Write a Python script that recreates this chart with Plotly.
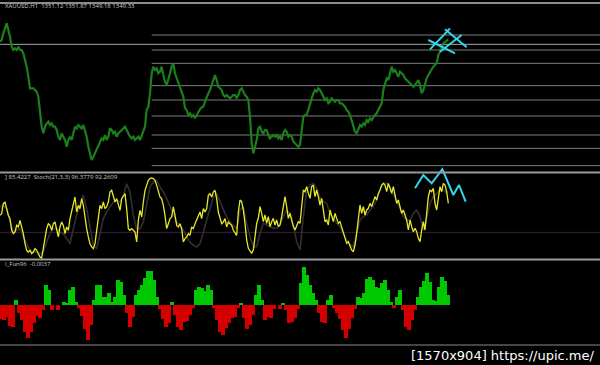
import plotly.graph_objects as go

# ---------------- data ----------------
# close prices, one per H1 bar
price_close = [
 1348.5,1349.0,1351.0,1352.5,1354.0,1352.0,1350.0,1347.0,1346.0,1346.5,
 1346.0,1347.0,1346.0,1346.0,1345.0,1343.0,1341.0,1338.0,1334.5,1334.5,
 1334.5,1334.0,1333.5,1332.0,1328.0,1323.0,1321.0,1323.0,1324.0,1324.5,
 1323.5,1324.0,1323.0,1323.0,1322.0,1320.0,1319.0,1321.0,1320.0,1319.0,
 1317.0,1319.0,1320.0,1319.0,1321.0,1323.0,1322.5,1323.5,1323.0,1322.5,
 1323.5,1322.0,1320.0,1317.0,1315.0,1313.0,1314.0,1315.0,1316.0,1317.0,
 1318.0,1319.5,1319.0,1320.5,1319.0,1320.0,1322.5,1322.0,1321.0,1321.5,
 1320.0,1321.0,1321.5,1322.0,1322.5,1323.0,1322.0,1321.0,1320.0,1319.5,
 1320.0,1319.0,1319.5,1320.0,1319.0,1320.5,1321.5,1323.0,1328.0,1329.0,
 1333.0,1339.0,1341.0,1340.0,1340.5,1339.0,1339.5,1341.0,1338.5,1336.5,
 1335.5,1337.0,1339.0,1341.0,1342.0,1339.0,1337.5,1336.0,1334.5,1333.5,
 1332.0,1328.5,1328.0,1326.5,1327.0,1326.0,1326.5,1325.5,1326.5,1327.0,
 1328.2,1328.8,1329.0,1330.5,1332.0,1333.0,1334.0,1335.5,1336.5,1338.5,
 1337.0,1335.0,1334.5,1334.0,1332.5,1332.0,1332.5,1332.0,1331.5,1332.0,
 1332.5,1332.5,1331.5,1332.5,1334.0,1334.5,1333.5,1332.5,1332.0,1331.0,
 1326.0,1318.0,1315.0,1317.0,1319.0,1322.5,1323.0,1321.5,1321.0,1322.0,
 1322.0,1320.5,1319.5,1320.0,1320.5,1320.0,1320.5,1319.5,1320.0,1319.0,
 1321.0,1322.0,1321.5,1320.0,1320.5,1320.0,1318.5,1318.0,1317.5,1317.0,
 1317.5,1321.0,1326.0,1326.5,1326.5,1328.0,1330.0,1331.5,1333.0,1334.0,
 1333.5,1334.5,1334.0,1333.0,1332.0,1331.0,1331.5,1330.0,1330.5,1331.5,
 1331.0,1330.5,1331.0,1331.0,1330.0,1330.0,1329.5,1329.0,1328.0,1327.5,
 1326.5,1325.0,1323.0,1321.5,1321.0,1322.0,1323.5,1323.0,1324.0,1323.5,
 1325.0,1324.5,1325.5,1325.0,1326.0,1326.5,1327.0,1328.0,1329.0,1330.0,
 1334.0,1336.0,1337.5,1337.0,1339.0,1341.0,1339.5,1340.0,1339.0,1338.0,
 1339.5,1339.0,1338.5,1337.5,1337.0,1336.5,1336.0,1335.5,1335.0,1335.5,
 1336.5,1337.0,1335.5,1333.0,1334.0,1336.0,1337.5,1338.5,1339.5,1340.5,
 1341.0,1341.5,1342.0,1344.5,1345.5,1346.5,1348.0,1348.5,1349.0,1349.2,
]

# horizontal price levels (drawn objects)
level_full = 1347.7
levels_right = [1350.5, 1346.0, 1342.0, 1335.3, 1331.0, 1326.2, 1320.5, 1316.5, 1311.3]
levels_start_bar = 91

# cyan crossing lines on price chart: (bar0, price0, bar1, price1)
cross_lines = [
 (257, 1349.0, 273, 1345.0),
 (258, 1346.2, 270, 1352.5),
 (264, 1345.5, 277, 1350.5),
 (267, 1352.2, 280, 1346.8),
]

# Stochastic main line (%K), one per bar
stoch_main = [
 53.3,55.4,67.9,70.0,61.7,53.3,49.2,34.6,30.4,32.5,
 40.8,38.8,47.1,38.8,30.4,17.9,9.6,7.5,9.6,5.4,
 7.5,11.7,9.6,5.4,1.3,0.0,11.7,26.3,36.7,42.9,
 40.8,34.6,42.9,45.0,34.6,26.3,38.8,45.0,40.8,30.4,
 38.8,34.6,49.2,59.6,65.8,76.3,57.5,65.8,61.7,74.2,
 65.8,49.2,36.7,26.3,17.9,13.8,11.7,17.9,32.5,49.2,
 65.8,61.7,70.0,61.7,63.8,70.0,82.5,84.6,76.3,70.0,
 74.2,65.8,59.6,74.2,78.3,80.4,61.7,36.7,34.6,36.7,
 34.6,32.5,20.0,47.1,59.6,51.3,70.0,84.6,90.8,97.1,
 99.2,100.0,99.2,97.1,90.8,82.5,76.3,74.2,65.8,53.3,
 36.7,42.9,49.2,51.3,63.8,53.3,40.8,38.8,42.9,36.7,
 20.0,24.2,26.3,30.4,28.3,38.8,36.7,42.9,47.1,53.3,
 57.5,49.2,61.7,57.5,61.7,78.3,80.4,76.3,82.5,84.6,
 74.2,57.5,51.3,42.9,45.0,49.2,38.8,45.0,42.9,40.8,
 34.6,30.4,28.3,57.5,72.5,70.4,60.0,43.3,22.5,12.1,
 7.9,5.8,10.0,26.7,43.3,49.6,64.2,55.8,45.4,53.75,
 43.3,51.7,39.2,45.4,49.6,41.25,47.5,39.2,41.25,51.7,
 64.2,76.7,64.2,49.6,55.8,45.4,39.2,35.0,41.25,45.4,
 43.3,68.3,85.0,82.9,89.2,80.8,74.6,89.2,91.25,76.7,
 85.0,76.7,66.25,74.6,55.8,45.4,47.5,41.25,60.0,51.7,
 45.4,55.8,49.6,43.3,45.4,39.2,30.8,24.6,18.3,20.4,
 14.2,10.0,7.9,16.25,30.8,49.6,66.25,55.8,64.2,53.75,
 60.0,62.1,68.3,64.2,70.4,76.7,72.5,80.8,85.0,91.25,
 93.3,91.25,82.9,93.3,87.1,80.8,89.2,76.7,68.3,72.5,
 64.2,55.8,60.0,53.75,47.5,35.0,47.5,39.2,32.9,37.1,
 32.9,24.6,20.4,35.0,45.4,35.0,60.0,76.7,85.0,82.9,
 87.1,68.3,60.0,76.7,89.2,82.9,93.3,91.25,82.9,68.3,
]

# Stochastic signal line (%D), one per two bars
stoch_signal = [
 63.75,65.8,61.7,45.0,32.5,34.6,36.7,26.3,17.9,9.6,
 7.5,7.5,5.4,7.5,20.0,30.4,36.7,36.7,32.5,30.4,
 24.2,17.9,36.7,53.3,65.8,78.3,61.7,36.7,15.8,11.7,
 30.4,49.2,57.5,63.75,70.0,72.1,70.0,78.3,92.9,82.5,
 53.3,36.7,36.7,45.0,67.9,88.75,95.0,97.1,88.75,82.5,
 74.2,63.75,53.3,45.0,40.8,34.6,26.3,20.0,15.8,13.75,
 17.9,32.5,45.0,61.7,76.25,80.4,70.0,59.6,51.25,45.0,
 40.8,36.7,60.0,64.2,43.3,26.7,14.2,14.2,30.8,43.3,
 41.25,39.2,37.1,37.1,41.25,51.7,60.0,55.8,41.25,20.4,
 10.0,51.7,85.0,91.25,93.3,87.1,74.6,70.4,68.3,55.8,
 49.6,43.3,39.2,30.8,22.5,16.25,14.2,30.8,47.5,51.7,
 53.75,60.0,64.2,72.5,85.0,93.3,93.3,89.2,80.8,72.5,
 62.1,51.7,47.5,47.5,55.8,60.0,51.7,35.0,49.6,68.3,
 76.7,80.8,85.0,85.0,80.8,
]
stoch_level = 32

# cyan zigzag drawn on the stochastic window: bar, value
zig_bar = [249, 254, 259, 265.4, 272, 275.4, 279.4]
zig_val = [87.1, 103.75, 93.4, 111.0, 78.75, 91.25, 70.4]

# histogram oscillator, one per 1.8 bars
hist_vals = [
 -0.014,-0.015,-0.012,-0.021,-0.022,0.005,-0.008,-0.015,-0.027,-0.033,
 -0.027,-0.018,-0.011,-0.013,-0.005,0.020,0.015,-0.005,0.0,-0.005,
 0.0,0.003,0.002,0.015,0.018,0.003,-0.003,-0.011,-0.024,-0.035,
 -0.020,0.005,0.020,0.020,0.008,0.008,0.012,0.003,0.008,0.025,
 0.023,0.010,-0.008,-0.022,-0.012,0.010,0.015,0.020,0.027,0.034,
 0.034,0.025,0.008,-0.004,-0.014,-0.022,-0.018,0.003,-0.010,-0.022,
 -0.025,-0.017,-0.016,-0.010,-0.003,0.015,0.018,0.017,0.014,0.020,
 0.015,-0.003,-0.015,-0.027,-0.030,-0.023,-0.018,-0.013,-0.012,-0.003,
 0.002,-0.013,-0.024,-0.020,-0.010,0.010,0.020,0.005,-0.015,-0.012,
 -0.013,-0.004,0.0,-0.004,0.002,-0.005,-0.018,-0.017,-0.013,-0.004,
 0.022,0.038,0.030,0.020,0.012,0.005,-0.008,-0.017,-0.018,0.005,
 0.010,-0.003,-0.008,-0.014,-0.025,-0.033,-0.024,-0.013,-0.004,0.008,
 0.007,0.012,0.026,0.028,0.025,0.018,0.017,0.022,0.025,0.015,
 0.003,-0.003,0.008,0.015,-0.005,-0.022,-0.025,-0.015,-0.005,0.008,
 0.018,0.024,0.032,0.023,0.005,0.004,0.018,0.028,0.024,0.010,
]

header_text = "XAUUSD,H1  1351.12 1351.87 1349.18 1349.33"
stoch_text = "] 85.4227  Stoch(21,3,3) 96.3779 92.2609"
hist_text = "I_Fun96  -0.0037"
watermark = "[1570x904] https://upic.me/"

# ---------------- layout geometry (pixels) ----------------
W, H = 600, 365
def py(p):
    return 1 - p / H

X_RANGE = [0, 360]           # bars; 1 bar = 5/3 px
PRICE_RANGE = [1309.4, 1359.5]
STOCH_RANGE = [-1.25, 116.25]
HIST_RANGE = [-0.039, 0.045]

fig = go.Figure()

# price line
fig.add_trace(go.Scatter(
    x=list(range(len(price_close))), y=price_close, mode="lines",
    line=dict(color="#1b801b", width=2.2), xaxis="x", yaxis="y",
    hoverinfo="skip"))

# cyan crossing lines
for (b0, p0, b1, p1) in cross_lines:
    fig.add_trace(go.Scatter(x=[b0, b1], y=[p0, p1], mode="lines",
                             line=dict(color="#35d6ec", width=2),
                             xaxis="x", yaxis="y", hoverinfo="skip"))

# stochastic
fig.add_trace(go.Scatter(
    x=[2 * i for i in range(len(stoch_signal))], y=stoch_signal, mode="lines",
    line=dict(color="#303030", width=1.6), xaxis="x2", yaxis="y2", hoverinfo="skip"))
fig.add_trace(go.Scatter(
    x=list(range(len(stoch_main))), y=stoch_main, mode="lines",
    line=dict(color="#e8e82a", width=1.3), xaxis="x2", yaxis="y2", hoverinfo="skip"))
fig.add_trace(go.Scatter(
    x=zig_bar, y=zig_val, mode="lines",
    line=dict(color="#35d6ec", width=2), xaxis="x2", yaxis="y2", hoverinfo="skip"))

# histogram
fig.add_trace(go.Bar(
    x=[1.8 * i + 0.6 for i in range(len(hist_vals))], y=hist_vals, width=2.3,
    marker=dict(color=["#00c800" if v >= 0 else "#d40000" for v in hist_vals],
                line=dict(width=0)),
    xaxis="x3", yaxis="y3", hoverinfo="skip"))

ax = dict(visible=False, showgrid=False, zeroline=False, fixedrange=True)
fig.update_layout(
    width=W, height=H, margin=dict(l=0, r=0, t=0, b=0),
    paper_bgcolor="#000000", plot_bgcolor="rgba(0,0,0,0)",
    showlegend=False, bargap=0,
    xaxis=dict(ax, domain=[0, 1], range=X_RANGE, anchor="y"),
    yaxis=dict(ax, domain=[py(172), py(5)], range=PRICE_RANGE, anchor="x"),
    xaxis2=dict(ax, domain=[0, 1], range=X_RANGE, anchor="y2"),
    yaxis2=dict(ax, domain=[py(259), py(165)], range=STOCH_RANGE, anchor="x2"),
    xaxis3=dict(ax, domain=[0, 1], range=X_RANGE, anchor="y3"),
    yaxis3=dict(ax, domain=[py(344), py(260)], range=HIST_RANGE, anchor="x3"),
)

shapes = []
# price levels
shapes.append(dict(type="line", xref="x", yref="y", x0=X_RANGE[0], x1=X_RANGE[1],
                   y0=level_full, y1=level_full, line=dict(color="#a8a8a8", width=1),
                   layer="below"))
for lv in levels_right:
    shapes.append(dict(type="line", xref="x", yref="y", x0=levels_start_bar, x1=X_RANGE[1],
                       y0=lv, y1=lv, line=dict(color="#7c7c7c", width=1), layer="below"))
# stochastic level
shapes.append(dict(type="line", xref="x2", yref="y2", x0=X_RANGE[0], x1=X_RANGE[1],
                   y0=stoch_level, y1=stoch_level, line=dict(color="#3a1d3a", width=1),
                   layer="below"))
# window separators
for yp, w, c in [(3, 2, "#8c8c8c"), (172.5, 2, "#9a9a9a"), (259.5, 2, "#9a9a9a"), (345, 1, "#8a8a8a")]:
    shapes.append(dict(type="line", xref="paper", yref="paper", x0=0, x1=1,
                       y0=py(yp), y1=py(yp), line=dict(color=c, width=w)))
fig.update_layout(shapes=shapes)

ann = [
    dict(text=header_text, x=3 / W, y=py(6.5), font=dict(size=6, color="#c8c8c8")),
    dict(text=stoch_text, x=3 / W, y=py(176.5), font=dict(size=6, color="#c8c8c8")),
    dict(text=hist_text, x=3 / W, y=py(264), font=dict(size=6, color="#c8c8c8")),
]
for a in ann:
    a.update(xref="paper", yref="paper", xanchor="left", yanchor="middle",
             showarrow=False)
ann.append(dict(text=watermark, xref="paper", yref="paper", x=597 / W, y=py(355),
                xanchor="right", yanchor="middle", showarrow=False,
                font=dict(size=13, color="#ffffff", family="DejaVu Sans")))
fig.update_layout(annotations=ann)

fig.write_html("out.html")
